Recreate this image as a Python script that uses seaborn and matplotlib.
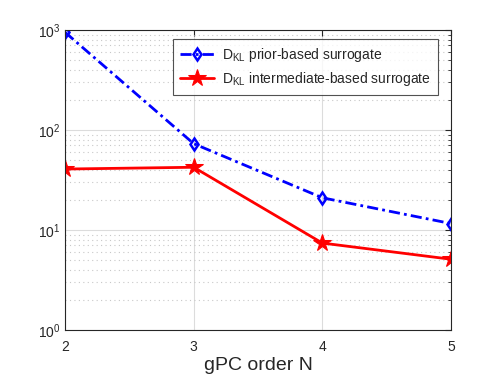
import matplotlib
matplotlib.use("Agg")
import matplotlib.pyplot as plt
import seaborn as sns
import pandas as pd

orders = [2, 3, 4, 5]
prior_based = [950, 73, 21, 11.6]
intermediate_based = [40.7, 42.4, 7.4, 5.1]
label_prior = r"D$_{\mathrm{KL}}$ prior-based surrogate"
label_inter = r"D$_{\mathrm{KL}}$ intermediate-based surrogate"
xlabel = "gPC order N"

sns.set_style("white")
plt.rcParams['font.family'] = ['Liberation Sans', 'DejaVu Sans']
plt.rcParams['mathtext.fontset'] = 'custom'
plt.rcParams['mathtext.rm'] = 'Liberation Sans'
plt.rcParams['mathtext.it'] = 'Liberation Sans:italic'

fig = plt.figure(figsize=(4.98, 3.74), dpi=100)
ax = fig.add_axes([65/498, 1-330/374, (451-65)/498, 300/374])

df1 = pd.DataFrame({"N": orders, "D": prior_based})
df2 = pd.DataFrame({"N": orders, "D": intermediate_based})

sns.lineplot(data=df1, x="N", y="D", ax=ax, color="#0000ff", linewidth=2,
             linestyle=(0, (4, 1.5, 1, 1.5)), marker="d", markersize=6.5,
             markerfacecolor="none", markeredgecolor="#0000ff", markeredgewidth=1.8,
             label=label_prior)
sns.lineplot(data=df2, x="N", y="D", ax=ax, color="#ff0000", linewidth=2,
             linestyle="-", marker="*", markersize=13,
             markerfacecolor="#ff0000", markeredgecolor="#ff0000",
             label=label_inter)

ax.set_yscale("log")
ax.set_ylim(1, 1000)
ax.set_xlim(2, 5)
ax.set_xticks(orders)
ax.set_xticklabels([str(o) for o in orders])
ax.set_xlabel(xlabel, fontsize=14, color="#262626", labelpad=2)
ax.set_ylabel("")

ax.grid(True, which="major", color="#dcdcdc", linewidth=0.8, linestyle="-")
ax.grid(True, which="minor", axis="y", color="#c8c8c8", linewidth=0.8, linestyle=(0, (1, 3)))
ax.set_axisbelow(True)

for s in ax.spines.values():
    s.set_visible(True)
    s.set_color("#262626")
    s.set_linewidth(0.8)
ax.tick_params(axis="both", which="both", direction="in", top=True, right=True,
               labelsize=10, colors="#262626")
ax.tick_params(which="major", length=4)
ax.tick_params(which="minor", length=2.5)
ax.tick_params(axis="x", pad=7)

leg = ax.legend(loc="upper right", bbox_to_anchor=(1 - 13/386, 1 - 9/300), borderaxespad=0,
                fontsize=10, frameon=True, fancybox=False, edgecolor="#262626",
                handlelength=2.4, handletextpad=0.6, borderpad=0.5, labelspacing=0.45)
leg.get_frame().set_linewidth(0.8)

fig.savefig("out.png", dpi=100)
